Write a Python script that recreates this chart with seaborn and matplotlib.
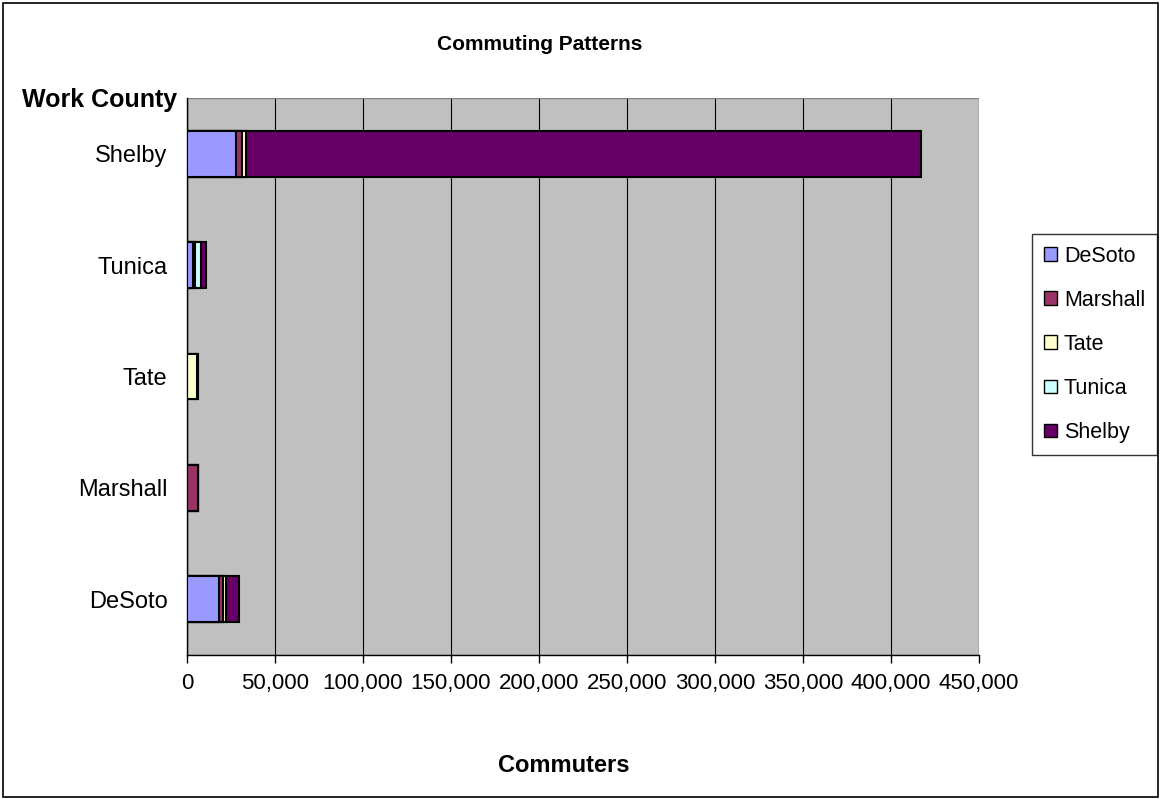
# Commuting patterns - stacked horizontal bars (work county x home county)

import pandas as pd
import numpy as np
import matplotlib.pyplot as plt
import seaborn as sns
from matplotlib.patches import Rectangle, Patch
from matplotlib.ticker import FuncFormatter, FixedLocator

# data
work_county = ["Shelby", "Tunica", "Tate", "Marshall", "DeSoto"]
home_county = ["DeSoto", "Marshall", "Tate", "Tunica", "Shelby"]

desoto   = [27800, 3500, 0, 0, 18000]
marshall = [3400, 500, 0, 6000, 2500]
tate     = [2300, 400, 5800, 0, 1500]
tunica   = [300, 3300, 0, 0, 200]
shelby   = [383000, 3300, 200, 0, 7500]

colors = {"DeSoto": "#9999FF", "Marshall": "#993366", "Tate": "#FFFFCC",
          "Tunica": "#CCFFFF", "Shelby": "#660066"}

df = pd.DataFrame({"Work": work_county, "DeSoto": desoto, "Marshall": marshall,
                   "Tate": tate, "Tunica": tunica, "Shelby": shelby})
cum = df[home_county].cumsum(axis=1)
cum["Work"] = df["Work"]

sns.set_style("white")
plt.rcParams["font.family"] = ["Liberation Sans", "DejaVu Sans"]
plt.rcParams["text.color"] = "black"
plt.rcParams["xtick.color"] = "black"
plt.rcParams["ytick.color"] = "black"

fig = plt.figure(figsize=(11.61, 7.99), dpi=100)
ax = fig.add_axes([187 / 1161, 1 - 655 / 799, (979 - 187) / 1161, (655 - 98) / 799])
ax.set_facecolor("#C0C0C0")

# draw cumulative totals from the last segment back, so each one overlaps
for home in reversed(home_county):
    sns.barplot(data=cum, y="Work", x=home, order=work_county, orient="h",
                color=colors[home], saturation=1, width=0.41,
                edgecolor="black", linewidth=1.5, ax=ax, zorder=3)

ax.set_xlim(0, 450000)
ax.set_ylim(4.5, -0.5)
ax.set_xticks(np.arange(0, 450001, 50000))
ax.xaxis.set_major_formatter(FuncFormatter(lambda v, p: f"{int(v):,}"))
ax.grid(axis="x", color="black", linewidth=0.8, zorder=0)
ax.set_axisbelow(True)

ax.tick_params(axis="y", which="major", length=0, pad=14, labelsize=17,
               labelcolor="black")
ax.yaxis.set_minor_locator(FixedLocator(np.arange(-0.5, 5, 1)))
ax.tick_params(axis="y", which="minor", length=7, width=1, color="black", direction="out")
ax.tick_params(axis="x", length=6, width=1, color="black", direction="out",
               labelsize=16, pad=7, bottom=True, labelcolor="black")

for s in ["top", "right"]:
    ax.spines[s].set_visible(False)
for s in ["left", "bottom"]:
    ax.spines[s].set_color("black")
    ax.spines[s].set_linewidth(1)
# grey plot area border
ax.add_patch(Rectangle((0, 0), 1, 1, transform=ax.transAxes, fill=False,
                       edgecolor="#808080", linewidth=1, zorder=1))

ax.set_xlabel("")
ax.set_ylabel("")

fig.text(540 / 1161, 1 - 45 / 799, "Commuting Patterns", ha="center", va="center",
         fontsize=15, fontweight="bold")
fig.text(22 / 1161, 1 - 100 / 799, "Work County", ha="left", va="center",
         fontsize=18, fontweight="bold")
fig.text(564 / 1161, 1 - 766 / 799, "Commuters", ha="center", va="center",
         fontsize=17, fontweight="bold")

handles = [Patch(facecolor=colors[h], edgecolor="black", linewidth=1) for h in home_county]
leg = fig.legend(handles, home_county, loc="upper left",
                 bbox_to_anchor=(1032 / 1161, 1 - 234 / 799), fontsize=15.5,
                 frameon=True, fancybox=False, edgecolor="black", labelspacing=1.07,
                 handlelength=0.6, handleheight=0.6, handletextpad=0.33,
                 borderpad=0.55, borderaxespad=0)
leg.get_frame().set_linewidth(1)

# outer chart border
fig.patches.append(Rectangle((3 / 1161, 2 / 799), 1 - 6 / 1161, 1 - 5 / 799,
                             transform=fig.transFigure, fill=False,
                             edgecolor="black", linewidth=1.2))

fig.savefig("out.png", dpi=100, facecolor="white")
